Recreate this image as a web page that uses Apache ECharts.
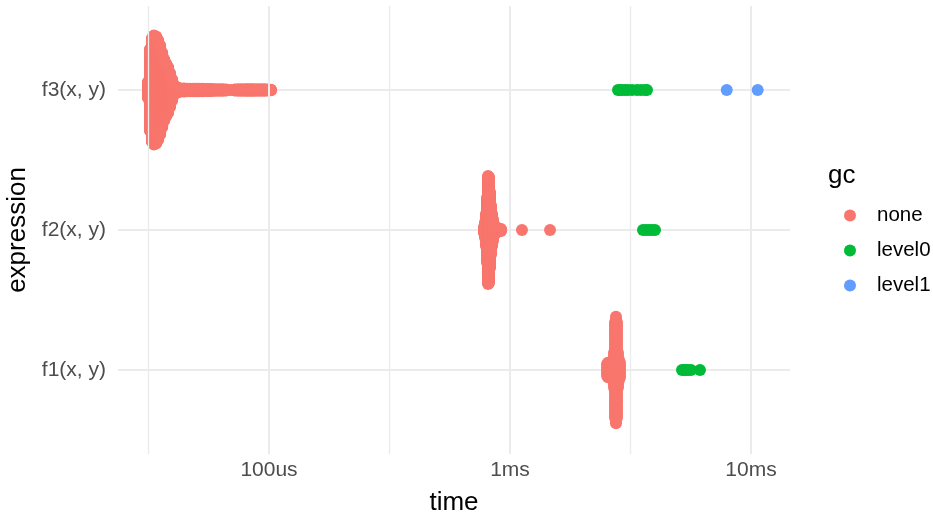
<!DOCTYPE html>
<html>
<head>
<meta charset="utf-8">
<script src="https://cdn.jsdelivr.net/npm/echarts@6/dist/echarts.min.js"></script>
<style>
  html, body { margin: 0; padding: 0; background: #ffffff; }
  #chart { width: 933px; height: 515px; }
</style>
</head>
<body>
<div id="chart"></div>
<script>
// Benchmark of three expressions: each iteration's run time, coloured by the
// garbage-collection level seen during that iteration.
const expressions = ['f1(x, y)', 'f2(x, y)', 'f3(x, y)'];
const gcLevels = ['none', 'level0', 'level1'];
const gcColors = ['#F8766D', '#00BA38', '#619CFF'];

// Iteration times (microseconds) and how many iterations took each time.
const f1NoneTime   = [2527, 2551, 2575, 2600, 2625, 2650, 2675, 2701, 2727, 2753, 2780, 2806, 2833, 2860];
const f1NoneCount  = [5, 6, 6, 6, 6, 7, 8, 13, 34, 38, 34, 13, 8, 6];
const f1Level0Time  = [5172, 5272, 5373, 5477, 5637, 6142];
const f1Level0Count = [1, 1, 1, 1, 1, 1];
const f1Level1Time  = [];
const f1Level1Count = [];

const f2NoneTime   = [780, 788, 795, 803, 811, 818, 826, 834, 842, 850, 858, 867, 875, 883, 900, 918, 1121, 1466];
const f2NoneCount  = [7, 16, 33, 66, 110, 108, 77, 50, 33, 22, 12, 8, 6, 5, 4, 3, 1, 1];
const f2Level0Time  = [3563, 3666, 3774, 3882, 3996];
const f2Level0Count = [1, 1, 1, 1, 1];
const f2Level1Time  = [];
const f2Level1Count = [];

const f3NoneTime = [
  31.5, 32.1, 32.7, 33.3, 34.0, 34.6, 35.3, 36.0, 36.7, 37.4, 38.1, 38.8, 39.6, 40.3, 41.1,
  41.9, 43.1, 44.4, 45.7, 47.0, 48.4, 49.8, 51.2, 52.7, 54.2, 55.8, 57.4, 59.1, 60.8, 62.6,
  64.4, 66.3, 68.2, 70.2, 72.2, 74.3, 76.5, 78.7, 81.0, 83.4, 85.8, 88.3, 90.8, 93.5, 96.2,
  99.0, 101.9
];
const f3NoneCount = [
  48, 240, 304, 320, 314, 294, 262, 220, 180, 155, 135, 100, 62, 30, 12,
  14, 10, 10, 9, 9, 8, 8, 8, 8, 7, 7, 7, 6, 5, 5,
  5, 4, 1, 1, 4, 5, 5, 5, 6, 6, 6, 5, 5, 5, 5,
  4, 3
];
const f3Level0Time  = [2806, 2861, 2916, 3000, 3087, 3208, 3365, 3495, 3632, 3702];
const f3Level0Count = [1, 1, 1, 1, 1, 1, 1, 1, 1, 1];
const f3Level1Time  = [7930, 10660];
const f3Level1Count = [1, 1];

// Time axis ticks (microseconds) and their labels; minor grid between decades.
const timeTicks = [100, 1000, 10000];
const timeTickLabels = ['100us', '1ms', '10ms'];
const minorTimeLines = [31.62, 316.2, 3162];

const runs = [
  [[f1NoneTime, f1NoneCount], [f1Level0Time, f1Level0Count], [f1Level1Time, f1Level1Count]],
  [[f2NoneTime, f2NoneCount], [f2Level0Time, f2Level0Count], [f2Level1Time, f2Level1Count]],
  [[f3NoneTime, f3NoneCount], [f3Level0Time, f3Level0Count], [f3Level1Time, f3Level1Count]]
];

// Swarm layout: within each expression, iterations sharing a time are spread
// vertically over a band whose half-width follows how many share that time.
const SPREAD = 0.39;
const points = gcLevels.map(() => []);
runs.forEach((byGc, e) => {
  let maxCount = 1;
  byGc.forEach(([, counts]) => counts.forEach(c => { if (c > maxCount) maxCount = c; }));
  byGc.forEach(([times, counts], g) => {
    times.forEach((t, i) => {
      const n = counts[i];
      const half = SPREAD * n / maxCount;
      for (let k = 0; k < n; k++) {
        const off = n > 1 ? half * (2 * k + 1 - n) / n : 0;
        points[g].push([t, e + 1 + off]);
      }
    });
  });
});

const FONT = '"Liberation Sans", Arial, sans-serif';
const GRID = '#EBEBEB';

const series = gcLevels.map((name, g) => ({
  name: name,
  type: 'scatter',
  data: points[g],
  symbol: 'circle',
  symbolSize: 12,
  itemStyle: { color: gcColors[g], opacity: 1 },
  emphasis: { disabled: true },
  silent: true,
  progressive: 0,
  large: false,
  animation: false
}));

series[0].markLine = {
  silent: true,
  z: 1,
  animation: false,
  symbol: ['none', 'none'],
  label: { show: false },
  emphasis: { disabled: true },
  lineStyle: { color: GRID, type: 'solid', width: 2 },
  data: timeTicks.map(v => ({ xAxis: v }))
    .concat(minorTimeLines.map(v => ({ xAxis: v, lineStyle: { color: GRID, type: 'solid', width: 1.3 } })))
};

const chart = echarts.init(document.getElementById('chart'), null, { renderer: 'canvas' });
chart.setOption({
  animation: false,
  backgroundColor: '#ffffff',
  textStyle: { fontFamily: FONT },
  grid: { left: 118, right: 143, top: 6, bottom: 61, outerBoundsMode: 'none' },
  title: {
    text: 'gc',
    left: 828,
    top: 163,
    padding: 0,
    textStyle: { fontFamily: FONT, fontSize: 26, fontWeight: 'normal', color: '#000000' }
  },
  legend: {
    data: gcLevels,
    orient: 'vertical',
    left: 839,
    top: 200,
    icon: 'circle',
    itemWidth: 12,
    itemHeight: 12,
    itemGap: 14,
    selectedMode: false,
    textStyle: { fontFamily: FONT, fontSize: 20.5, color: '#000000', padding: [0, 0, 0, 16] }
  },
  xAxis: {
    type: 'log',
    logBase: 10,
    min: 23.63,
    max: 14515,
    axisLine: { show: false },
    axisTick: { show: false },
    splitLine: { show: false },
    minorSplitLine: { show: false },
    axisLabel: {
      color: '#4D4D4D',
      fontFamily: FONT,
      fontSize: 21,
      margin: 6,
      showMinLabel: false,
      showMaxLabel: false,
      formatter: v => {
        const i = timeTicks.findIndex(t => Math.abs(v - t) / t < 1e-6);
        return i >= 0 ? timeTickLabels[i] : '';
      }
    },
    name: 'time',
    nameLocation: 'middle',
    nameGap: 36,
    nameTextStyle: { fontFamily: FONT, fontSize: 26, color: '#000000' }
  },
  yAxis: {
    type: 'value',
    min: 0.4,
    max: 3.6,
    axisLine: { show: false },
    axisTick: { show: false, customValues: [1, 2, 3] },
    axisLabel: {
      customValues: [1, 2, 3],
      color: '#4D4D4D',
      fontFamily: FONT,
      fontSize: 21,
      margin: 12,
      formatter: v => expressions[Math.round(v) - 1] || ''
    },
    splitLine: { show: true, lineStyle: { color: GRID, width: 2 } },
    name: 'expression',
    nameLocation: 'middle',
    nameRotate: 90,
    nameGap: 85,
    nameTextStyle: { fontFamily: FONT, fontSize: 26, color: '#000000' }
  },
  series: series
});
</script>
</body>
</html>
